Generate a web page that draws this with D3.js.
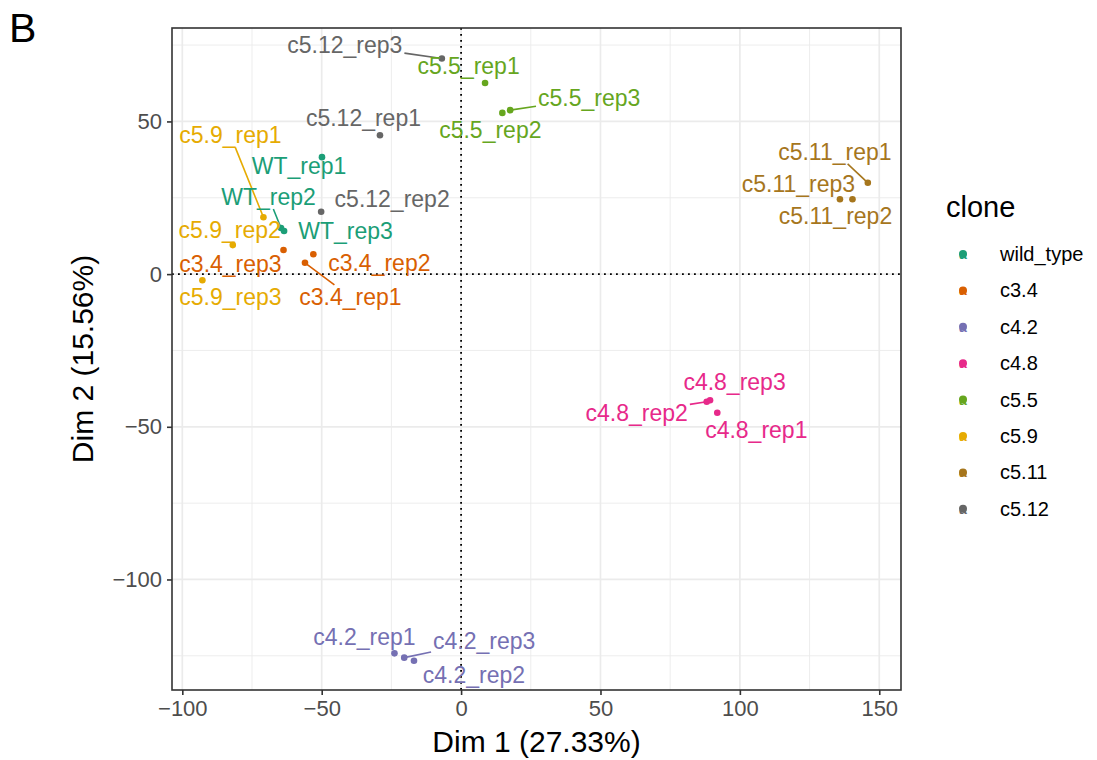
<!DOCTYPE html>
<html>
<head>
<meta charset="utf-8">
<script src="https://cdn.jsdelivr.net/npm/d3@7/dist/d3.min.js"></script>
<style>
  body { margin: 0; background: #fff; }
  text { font-family: "Liberation Sans", Arial, Helvetica, sans-serif; }
</style>
</head>
<body>
<svg id="chart" width="1097" height="760"></svg>
<script>
// ---- data ----
const sampleNames = ["WT_rep1","WT_rep2","WT_rep3","c3.4_rep1","c3.4_rep2","c3.4_rep3",
  "c4.2_rep1","c4.2_rep2","c4.2_rep3","c4.8_rep1","c4.8_rep2","c4.8_rep3",
  "c5.5_rep1","c5.5_rep2","c5.5_rep3","c5.9_rep1","c5.9_rep2","c5.9_rep3",
  "c5.11_rep1","c5.11_rep2","c5.11_rep3","c5.12_rep1","c5.12_rep2","c5.12_rep3"];
const sampleClone = ["wild_type","wild_type","wild_type","c3.4","c3.4","c3.4",
  "c4.2","c4.2","c4.2","c4.8","c4.8","c4.8","c5.5","c5.5","c5.5","c5.9","c5.9","c5.9",
  "c5.11","c5.11","c5.11","c5.12","c5.12","c5.12"];
const dim1 = [-49.9,-64.6,-63.5,-56.0,-53.0,-63.7,-23.9,-16.9,-20.4,91.9,88.1,89.3,
  8.6,14.8,17.6,-70.9,-81.9,-92.8,145.9,140.4,135.9,-29.1,-50.2,-6.9];
const dim2 = [38.3,15.1,14.1,3.7,6.5,7.9,-124.2,-126.6,-125.6,-45.4,-41.8,-41.3,
  62.6,52.8,53.7,18.6,9.5,-2.0,29.9,24.5,24.5,45.5,20.4,70.6];
const clones = ["wild_type","c3.4","c4.2","c4.8","c5.5","c5.9","c5.11","c5.12"];
const cloneColors = ["#1B9E77","#D95F02","#7570B3","#E7298A","#66A61E","#E6AB02","#A6761D","#666666"];
const xTicks = [-100,-50,0,50,100,150];
const yTicks = [-100,-50,0,50];
const xMinor = [-75,-25,25,75,125];
const yMinor = [-125,-75,-25,25,75];
const xTitle = "Dim 1 (27.33%)";
const yTitle = "Dim 2 (15.56%)";
const legendTitle = "clone";
const panelTag = "B";

// ---- layout (label offsets from points, in px, as a repel result; which labels get a leader) ----
const labelOffsets = [[-23,9],[-12.5,-31],[61.5,0],[45.5,34],[66,9],[-53,14],
  [-30,-16],[60,14],[80,-17],[39,17],[-70,11],[24.5,-18],
  [-16.5,-17],[-12,17],[79,-12],[-33,-82],[-3,-15],[28,17],
  [-33,-31],[-17,17],[-41.5,-15],[-16.5,-17],[71,-13],[-97,-14]];
const withLeader = ["WT_rep2","c3.4_rep1","c4.2_rep3","c4.8_rep2","c5.5_rep3","c5.9_rep1","c5.11_rep1","c5.12_rep3"];

const panel = {left: 172, right: 901, top: 28, bottom: 690};
const svg = d3.select("#chart");

const x = d3.scaleLinear().domain([-103.7, 157.8]).range([panel.left, panel.right]);
const y = d3.scaleLinear().domain([-136.2, 80.6]).range([panel.bottom, panel.top]);
const color = d3.scaleOrdinal().domain(clones).range(cloneColors);

const g = svg.append("g");
// grid
g.selectAll(".xminor").data(xMinor).join("line")
  .attr("x1", d => x(d)).attr("x2", d => x(d)).attr("y1", panel.top).attr("y2", panel.bottom)
  .attr("stroke", "#EBEBEB").attr("stroke-width", 0.9);
g.selectAll(".yminor").data(yMinor).join("line")
  .attr("y1", d => y(d)).attr("y2", d => y(d)).attr("x1", panel.left).attr("x2", panel.right)
  .attr("stroke", "#EBEBEB").attr("stroke-width", 0.9);
g.selectAll(".xmajor").data(xTicks).join("line")
  .attr("x1", d => x(d)).attr("x2", d => x(d)).attr("y1", panel.top).attr("y2", panel.bottom)
  .attr("stroke", "#EBEBEB").attr("stroke-width", 1.7);
g.selectAll(".ymajor").data(yTicks).join("line")
  .attr("y1", d => y(d)).attr("y2", d => y(d)).attr("x1", panel.left).attr("x2", panel.right)
  .attr("stroke", "#EBEBEB").attr("stroke-width", 1.7);

// zero reference lines
g.append("line").attr("x1", x(0)).attr("x2", x(0)).attr("y1", panel.top).attr("y2", panel.bottom)
  .attr("stroke", "#000").attr("stroke-width", 1.8).attr("stroke-dasharray", "1.8,4.2");
g.append("line").attr("y1", y(0)).attr("y2", y(0)).attr("x1", panel.left).attr("x2", panel.right)
  .attr("stroke", "#000").attr("stroke-width", 1.8).attr("stroke-dasharray", "1.8,4.2");

// axes
const xAxis = d3.axisBottom(x).tickValues(xTicks).tickSize(5).tickPadding(4)
  .tickFormat(d => d < 0 ? "\u2212" + Math.abs(d) : d);
const yAxis = d3.axisLeft(y).tickValues(yTicks).tickSize(5).tickPadding(5)
  .tickFormat(d => d < 0 ? "\u2212" + Math.abs(d) : d);
const gx = svg.append("g").attr("transform", `translate(0,${panel.bottom})`).call(xAxis);
const gy = svg.append("g").attr("transform", `translate(${panel.left},0)`).call(yAxis);
[gx, gy].forEach(a => {
  a.select(".domain").remove();
  a.selectAll(".tick line").attr("stroke", "#333").attr("stroke-width", 1.6);
  a.selectAll(".tick text").attr("fill", "#4D4D4D").style("font-size", "22px")
    .style("font-family", '"Liberation Sans", Arial, sans-serif');
});
gx.selectAll(".tick text").attr("dy", "0.78em");

// panel border
svg.append("rect").attr("x", panel.left).attr("y", panel.top)
  .attr("width", panel.right - panel.left).attr("height", panel.bottom - panel.top)
  .attr("fill", "none").attr("stroke", "#333").attr("stroke-width", 1.6);

// points + labels
const data = sampleNames.map((n, i) => ({
  name: n, clone: sampleClone[i], px: x(dim1[i]), py: y(dim2[i]),
  lx: x(dim1[i]) + labelOffsets[i][0], ly: y(dim2[i]) + labelOffsets[i][1]
}));

const segG = svg.append("g");
const ptG = svg.append("g");
const lblG = svg.append("g");

ptG.selectAll("circle").data(data).join("circle")
  .attr("cx", d => d.px).attr("cy", d => d.py).attr("r", 3.3)
  .attr("fill", d => color(d.clone));

const labels = lblG.selectAll("text").data(data).join("text")
  .attr("x", d => d.lx).attr("y", d => d.ly).attr("dy", "0.35em")
  .attr("text-anchor", "middle").style("font-size", "23px")
  .attr("fill", d => color(d.clone)).text(d => d.name);

labels.each(function(d) {
  if (!withLeader.includes(d.name)) return;
  const b = this.getBBox();
  const pad = 2;
  const x0 = b.x - pad, x1 = b.x + b.width + pad, y0 = b.y + 3 - pad, y1 = b.y + b.height - 3 + pad;
  const cx = (x0 + x1) / 2, cy = (y0 + y1) / 2;
  const dx = d.px - cx, dy = d.py - cy;
  let t = Infinity;
  if (dx !== 0) t = Math.min(t, ((dx > 0 ? x1 : x0) - cx) / dx);
  if (dy !== 0) t = Math.min(t, ((dy > 0 ? y1 : y0) - cy) / dy);
  const ex = cx + dx * t, ey = cy + dy * t;
  segG.append("line").attr("x1", d.px).attr("y1", d.py).attr("x2", ex).attr("y2", ey)
    .attr("stroke", color(d.clone)).attr("stroke-width", 1.6);
});

// axis titles
svg.append("text").attr("x", (panel.left + panel.right) / 2).attr("y", 752)
  .attr("text-anchor", "middle").style("font-size", "30px").attr("fill", "#000").text(xTitle);
svg.append("text").attr("transform", `translate(93,${(panel.top + panel.bottom) / 2}) rotate(-90)`)
  .attr("text-anchor", "middle").style("font-size", "30px").attr("fill", "#000").text(yTitle);

// tag
svg.append("text").attr("x", 9).attr("y", 42).style("font-size", "41px").attr("fill", "#000").text(panelTag);

// legend
const leg = svg.append("g");
leg.append("text").attr("x", 946).attr("y", 217).style("font-size", "29px").attr("fill", "#000").text(legendTitle);
const items = leg.selectAll("g.item").data(clones).join("g")
  .attr("transform", (d, i) => `translate(963,${254 + i * 36.4})`);
items.append("circle").attr("r", 4).attr("fill", d => color(d));
items.append("text").attr("text-anchor", "middle").attr("dy", "0.36em")
  .style("font-size", "14px").style("font-weight", "bold").attr("fill", d => color(d)).text("a");
items.append("text").attr("x", 37).attr("dy", "0.35em").style("font-size", "20px")
  .attr("fill", "#000").text(d => d);
</script>
</body>
</html>
